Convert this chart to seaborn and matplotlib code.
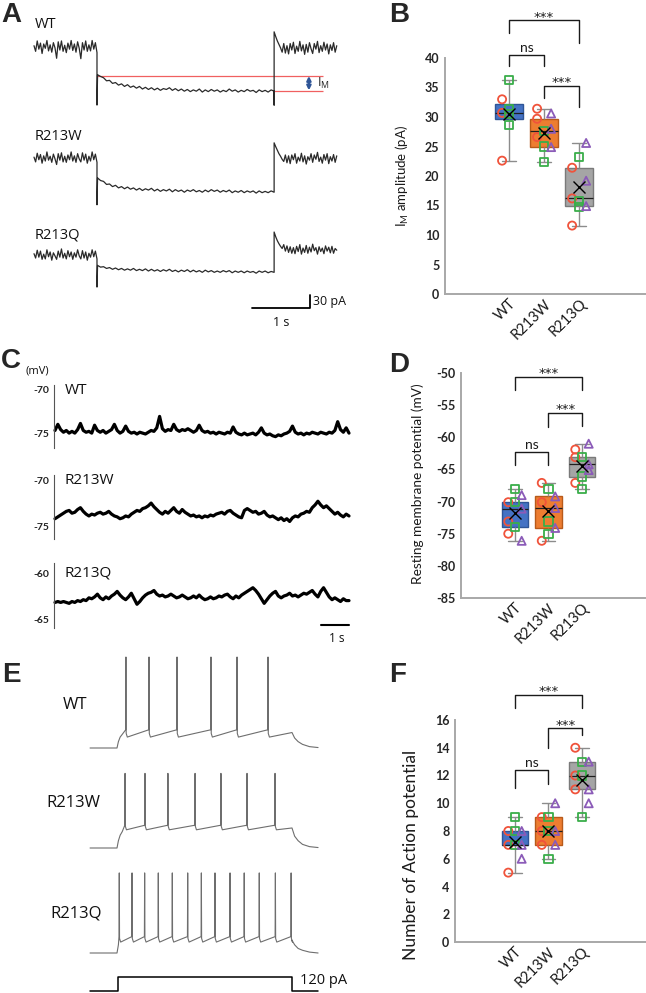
import numpy as np
import pandas as pd
import matplotlib
matplotlib.use("Agg")
import matplotlib.pyplot as plt
import seaborn as sns

# ======================= DATA =======================
groups = ["WT", "R213W", "R213Q"]
box_fill = ["#4472C4", "#ED7D31", "#A5A5A5"]
box_edge = ["#2F5597", "#B85A1A", "#7A7A7A"]
src_names = ["red", "green", "purple"]
src_colors = {"red": "#F0533B", "green": "#3AAE4A", "purple": "#8B5BB8"}
src_markers = {"red": "o", "green": "s", "purple": "^"}
src_offset = {"red": -0.2, "green": 0.0, "purple": 0.2}

# B : I_M amplitude (pA), per group [WT, R213W, R213Q]
im_red = [[33.0, 30.7, 22.6], [31.4, 29.7, 26.6], [21.4, 16.2, 11.6]]
im_green = [[36.2, 31.3, 30.5, 28.7], [27.7, 25.0, 22.4], [23.2, 15.7, 14.7]]
im_purple = [[], [30.6, 28.0, 24.9], [25.6, 19.2, 14.9]]

# D : resting membrane potential (mV)
rmp_red = [[-70.1, -73.1, -75.0], [-67.1, -70.1, -76.1], [-61.9, -63.1, -67.1]]
rmp_green = [[-68.0, -70.1, -74.0], [-68.0, -73.1, -75.0], [-63.1, -66.1, -68.0]]
rmp_purple = [[-69.0, -71.1, -76.1], [-69.2, -71.0, -74.1], [-61.0, -64.2, -65.1]]

# F : number of action potentials
ap_red = [[8, 7, 5], [9, 8, 7], [14, 12, 11]]
ap_green = [[9, 8, 7], [9, 8, 6], [13, 12, 9]]
ap_purple = [[8, 7, 6], [10, 8, 7], [13, 11, 10]]

# significance brackets: (group i, group j, top, left leg end, right leg end, label)
sig_B = [(0, 2, 46.4, 44.2, 42.5, "***"), (0, 1, 40.5, 38.6, 38.6, "ns"), (1, 2, 35.3, 33.2, 31.7, "***")]
sig_D = [(0, 2, -50.6, -52.6, -52.6, "***"), (1, 2, -56.2, -58.4, -58.3, "***"), (0, 1, -62.3, -64.3, -64.3, "ns")]
sig_F = [(0, 2, 17.8, 16.9, 16.9, "***"), (1, 2, 15.4, 14.0, 14.9, "***"), (0, 1, 12.4, 11.1, 11.4, "ns")]

# A : M-current traces (pA, relative to holding level); time in s
A_t_on, A_t_off, A_t_end = 1.086, 4.14, 5.22
A_pre = [
    [3, -10, 14, -5, 9, -15, 7, -3, 15, -9, 5, -12, 10, -2, -26, 12, -7, 14, -10, 4, -13, 9, -5, 15, -8, 7, -12, 12, -3, -27, 10, -7, 14, -10, 5, -9, 15, -5, 10, -13],
    [2, -9, 11, -4, 8, -12, 5, -7, 14, -5, 4, -10, 9, -2, -15, 10, -5, 12, -9, 4, -10, 7, -4, 14, -7, 5, -10, 10, -2, -9, 12, -5, 9, -12, 4, -7, 14, -4, 9, -10],
    [3, -7, 11, -5, 9, -10, 2, -9, 12, -4, 7, -12, 5, -2, -10, 9, -5, 14, -7, 4, -9, 10, -4, 7, -10, 5, -5, 12, -2, -9, 10, -7, 7, -12, 4, -5, 12, -4, 9, -9],
]
A_step = [
    [-64, -68, -71, -78, -77, -84, -82, -88, -85, -91, -87, -93, -90, -95, -91, -97, -93, -98, -94, -99, -95, -100, -96, -98, -94, -100, -96, -101, -97, -102,
     -98, -103, -99, -102, -97, -104, -99, -103, -98, -102, -99, -104, -100, -103, -97, -102, -99, -104, -100, -103, -98, -102, -100, -105, -99, -103, -100, -104, -99, -102],
    [-46, -52, -54, -61, -60, -66, -63, -69, -66, -71, -67, -72, -69, -74, -70, -75, -71, -74, -70, -76, -72, -77, -73, -76, -72, -78, -73, -77, -74, -79,
     -74, -77, -73, -78, -75, -79, -74, -78, -73, -77, -74, -79, -75, -78, -74, -80, -76, -79, -75, -80, -76, -79, -76, -81, -76, -80, -77, -80, -76, -79],
    [-24, -28, -27, -31, -29, -33, -30, -34, -31, -35, -32, -35, -31, -36, -33, -36, -32, -37, -33, -37, -34, -38, -34, -37, -33, -38, -35, -39, -35, -38,
     -34, -39, -35, -39, -36, -40, -35, -39, -36, -40, -37, -40, -36, -39, -36, -41, -37, -40, -37, -41, -37, -40, -38, -42, -37, -40, -37, -41, -38, -40],
]
A_post = [
    [35, 24, 14, 6, -2, -12, 8, -14, 3, -16, 8, -7, 11, -15, 2, -10, 13, -9, 5, -17, 6, -12, 10, -4, -15, 8, -5, 13, -13, 3, -10, 11, -7, 7, -16, 5, -8, 10, -12, 3],
    [35, 26, 18, 10, 4, -3, -8, 7, -11, 5, -13, 7, -4, 10, -12, 2, -7, 11, -9, 5, -14, 3, -5, 10, -10, 7, -3, 13, -8, 2, -12, 8, -5, 10, -13, 3, -7, 8, -10, 5],
    [53, 42, 33, 26, 20, 15, 24, 9, 21, 6, 19, 4, 17, 3, 20, 8, 24, 2, 16, 6, 22, 4, 18, 7, 25, 10, 17, 2, 19, 8, 16, 3, 21, 9, 18, 5, 20, 4, 15, 11],
]
A_on_min = [-134, -108, -74]      # capacitive transient at step onset
A_off_min = [-134, -78, -39]      # transient at step offset
A_IM_levels = [-66, -101]         # initial and steady-state levels (WT)

# C : resting membrane potential traces (mV), 10.5 s
C_dur = 10.5
C_WT = [-74.6, -73.9, -74.5, -74.8, -74.6, -74.9, -74.7, -74.9, -74.5, -73.8, -74.6, -74.8, -74.7, -74.9, -74.0, -74.6, -74.8, -74.6, -74.9, -74.7,
        -74.5, -73.9, -74.6, -74.9, -74.7, -74.1, -74.7, -74.9, -74.8, -75.0, -74.8, -74.9, -75.0, -74.8, -74.6, -74.7, -74.3, -73.0, -74.4, -74.7,
        -74.5, -74.6, -73.9, -74.5, -74.7, -74.5, -74.6, -74.4, -74.6, -74.8, -74.6, -74.0, -74.6, -74.8, -74.7, -74.9, -74.8, -75.0, -74.8, -74.9,
        -75.0, -74.8, -74.9, -74.2, -74.8, -75.0, -75.1, -74.9, -75.1, -75.0, -74.9, -75.1, -74.8, -74.3, -74.9, -75.1, -75.0, -75.2, -75.3, -75.1,
        -75.2, -75.0, -74.9, -74.7, -74.1, -74.8, -75.0, -74.9, -75.1, -74.9, -75.0, -74.8, -74.9, -75.0, -74.8, -74.9, -75.0, -74.8, -74.9, -74.6,
        -73.6, -74.5, -74.8, -74.3, -74.9]
C_W = [-74.1, -73.9, -73.7, -73.5, -73.3, -73.2, -73.5, -73.4, -73.1, -72.9, -73.3, -73.6, -73.8, -73.6, -73.7, -73.5, -73.4, -73.6, -73.5, -73.3,
       -73.6, -73.8, -73.9, -74.1, -74.0, -73.8, -73.9, -73.6, -73.4, -73.2, -73.3, -73.0, -72.9, -72.7, -72.4, -72.8, -73.1, -73.4, -73.6, -73.3,
       -73.5, -73.2, -72.9, -73.3, -73.5, -73.1, -73.4, -73.6, -73.8, -73.7, -73.9, -73.8, -74.0, -73.8, -73.9, -73.7, -73.8, -73.6, -73.5, -73.4,
       -73.6, -73.3, -73.2, -73.5, -73.7, -73.9, -74.0, -73.2, -73.0, -73.2, -73.4, -73.3, -73.6, -73.5, -73.3, -73.7, -73.9, -73.8, -74.0, -74.2,
       -74.0, -74.3, -74.1, -74.4, -74.0, -73.8, -73.9, -73.6, -73.5, -73.3, -73.4, -72.9, -72.6, -72.2, -72.6, -72.9, -72.7, -73.0, -73.3, -73.6,
       -73.4, -73.7, -73.9, -73.6, -73.8]
C_Q = [-63.2, -63.1, -63.2, -63.1, -63.2, -63.3, -63.1, -63.2, -63.0, -63.1, -62.9, -63.0, -62.7, -62.8, -62.6, -62.3, -62.7, -62.9, -62.6, -62.8,
       -62.5, -62.3, -62.0, -62.4, -62.7, -62.9, -62.6, -62.2, -62.8, -63.4, -63.1, -62.7, -62.4, -62.2, -62.1, -61.9, -62.3, -62.5, -62.4, -62.6,
       -62.5, -62.3, -62.5, -62.7, -62.6, -62.4, -62.6, -62.8, -62.7, -62.5, -62.7, -62.4, -62.7, -62.9, -62.8, -62.6, -62.8, -62.7, -62.5, -62.6,
       -62.4, -62.3, -62.6, -62.8, -62.5, -62.7, -62.4, -62.2, -62.0, -61.8, -61.6, -61.9, -62.3, -62.8, -63.3, -62.9, -62.5, -62.2, -62.0, -62.5,
       -62.7, -62.5, -62.4, -62.2, -62.5, -62.4, -62.6, -62.4, -62.2, -62.3, -62.1, -61.9, -62.3, -62.6, -62.0, -61.6, -62.1, -62.6, -62.9, -62.7,
       -62.9, -63.1, -62.8, -63.0, -63.0]
C_traces = [C_WT, C_W, C_Q]
C_ticks = [(-70, -75), (-70, -75), (-60, -65)]

# E : action-potential trains (mV) for a 1000 ms, 120 pA step
E_t_start, E_t_off, E_t_end = -154, 1000, 1149
E_spikes = [
    [51, 183, 343, 537, 686, 863],
    [46, 160, 291, 446, 594, 743, 903],
    [13, 86, 158, 236, 316, 404, 482, 560, 646, 727, 813, 905, 995],
]
E_rest = [-70, -70, -70]
E_peak = [30, 12, 18]
E_thr = [-50, -45, -52]
E_trough = [-58, -50, -58]
E_on_t = [0, 8, 18, 30]
E_on_v = [[-70, -63, -58, -55], [-70, -62, -56, -52], [-70, -61, -57, -55]]
E_off_t = [1000, 1015, 1035, 1060, 1100, 1149]
E_off_v = [[-53, -59, -63, -66, -68.5, -69.5], [-48, -57, -62, -66, -68.5, -69.5], [-56, -61, -65, -67, -69, -70]]
stim_pA = 120
stim_on = 6

# ======================= STYLE =======================
sns.set_style("white")
plt.rcParams["font.family"] = ["Lato", "DejaVu Sans"]
plt.rcParams["axes.unicode_minus"] = False
W, H = 646, 993
fig = plt.figure(figsize=(W / 100, H / 100), dpi=100)

def pax(l, t, r, b):
    ax = fig.add_axes([l / W, 1 - b / H, (r - l) / W, (b - t) / H])
    ax.patch.set_alpha(0)
    return ax

def set_map(ax, l, t, r, b, xpx0, xv0, xppu, ypx0, yv0, yppu):
    ax.set_xlim(xv0 + (l - xpx0) / xppu, xv0 + (r - xpx0) / xppu)
    ax.set_ylim(yv0 - (b - ypx0) / yppu, yv0 + (ypx0 - t) / yppu)

def ftext(x, y, s, **kw):
    return fig.text(x / W, 1 - y / H, s, **kw)

LETTER = dict(fontsize=20, fontweight="bold", family=["Liberation Sans"], va="baseline", ha="left")
TRACE_LBL = dict(family=["Open Sans", "DejaVu Sans"], color="#111111")

# ======================= PANEL A =======================
ftext(1, 22, "A", **LETTER)
A_base_px = [47, 158, 255]
A_boxes = [(25, 112), (128, 212), (222, 330)]
A_names_y = [25, 137, 235]
for i in range(3):
    t0, b0 = A_boxes[i]
    ax = pax(20, t0, 390, b0)
    set_map(ax, 20, t0, 390, b0, 34, 0.0, 58.0, A_base_px[i], 0.0, 13 / 30)
    ax.axis("off")
    pre_t = np.linspace(0, A_t_on, len(A_pre[i]))
    step_t = np.linspace(A_t_on + 0.01, A_t_off, len(A_step[i]))
    post_t = np.linspace(A_t_off, A_t_end, len(A_post[i]))
    tt = np.concatenate([pre_t, [A_t_on], step_t, [A_t_off], post_t])
    vv = np.concatenate([A_pre[i], [A_on_min[i]], A_step[i], [A_off_min[i]], A_post[i]])
    if i == 0:
        ax.hlines(A_IM_levels[0], A_t_on, 4.98, color="#F06060", lw=0.9, zorder=1)
        ax.hlines(A_IM_levels[1], A_t_off, 4.98, color="#F06060", lw=0.9, zorder=1)
        ax.annotate("", xy=(4.74, A_IM_levels[1] + 1), xytext=(4.74, A_IM_levels[0] - 1),
                    arrowprops=dict(arrowstyle="<|-|>", color="#2F5597", lw=1.6,
                                    mutation_scale=6, shrinkA=0, shrinkB=0))
        ax.text(4.88, -85, r"$\mathregular{I_M}$", fontsize=9, va="center", ha="left",
                family=["Open Sans", "DejaVu Sans"])
    ax.plot(tt, vv, color="#2a2a2a", lw=0.9, zorder=2)
    if i == 2:
        ax.plot([3.76, 4.76, 4.76], [-122, -122, -92], color="black", lw=1.3, clip_on=False)
    ftext(35, A_names_y[i], groups[i], fontsize=10.5, va="center", ha="left", **TRACE_LBL)
ftext(313, 302, "30 pA", fontsize=9, va="center", ha="left", **TRACE_LBL)
ftext(281, 322, "1 s", fontsize=9, va="center", ha="center", **TRACE_LBL)

# ======================= PANEL C =======================
ftext(1, 368, "C", **LETTER)
ftext(37, 371, "(mV)", fontsize=8, va="center", ha="center", **TRACE_LBL)
C_ref = [(390, 8.8), (481, 9.2), (573, 9.2)]
C_boxes = [(375, 452), (468, 542), (556, 634)]
C_spine = [(-69.43, -76.6), (-69.35, -76.3), (-58.9, -66.0)]
C_names_y = [391, 481, 573]
for i in range(3):
    t0, b0 = C_boxes[i]
    ax = pax(40, t0, 356, b0)
    ref_px, ppu = C_ref[i]
    set_map(ax, 40, t0, 356, b0, 55, 0.0, 28.0, ref_px, C_ticks[i][0], ppu)
    tt = np.linspace(0, C_dur, len(C_traces[i]))
    ax.plot(tt, C_traces[i], color="black", lw=2.3, solid_joinstyle="round")
    for s in ["top", "right", "bottom"]:
        ax.spines[s].set_visible(False)
    ax.spines["left"].set_position(("data", -0.04))
    ax.spines["left"].set_bounds(*C_spine[i])
    ax.spines["left"].set_color("#555555")
    ax.spines["left"].set_linewidth(0.8)
    ax.set_xticks([])
    ax.set_yticks(list(C_ticks[i]))
    ax.set_yticklabels([str(v) for v in C_ticks[i]], fontsize=7.5, fontweight="bold", color="#222222")
    ax.tick_params(axis="y", length=2, width=0.6, pad=1, color="#555555")
    if i == 2:
        ax.plot([C_dur - 1.0, C_dur], [-65.65, -65.65], color="black", lw=1.5, clip_on=False)
    ftext(65, C_names_y[i], groups[i], fontsize=11, va="center", ha="left", **TRACE_LBL)
ftext(337, 638, "1 s", fontsize=8.5, va="center", ha="center", **TRACE_LBL)

# ======================= PANEL E =======================
ftext(2, 682, "E", **LETTER)
E_ref_px = [748, 848, 953]
E_boxes = [(650, 755), (765, 855), (865, 960)]
E_names = [(75, 705), (73, 803), (76, 913)]
for i in range(3):
    t0, b0 = E_boxes[i]
    ax = pax(85, t0, 325, b0)
    set_map(ax, 85, t0, 325, b0, 117, 0.0, 0.175, E_ref_px[i], E_rest[i], 0.91)
    ax.axis("off")
    tt = [E_t_start]
    vv = [E_rest[i]]
    sp = E_spikes[i]
    for tk, vk in zip(E_on_t, E_on_v[i]):
        if tk < sp[0] - 2:
            tt.append(tk); vv.append(vk)
    for k, ts in enumerate(sp):
        tt += [ts - 1.5, ts, ts + 1.5, ts + 8]
        vv += [E_thr[i], E_peak[i], E_trough[i] + 4, E_trough[i]]
    tt += E_off_t
    vv += E_off_v[i]
    ax.plot(tt, vv, color="#6e6e6e", lw=0.8)
    ftext(E_names[i][0], E_names[i][1], groups[i], fontsize=12, va="center", ha="center", **TRACE_LBL)
axs = pax(85, 968, 325, 993)
set_map(axs, 85, 968, 325, 993, 117, 0.0, 0.175, 991, 0.0, 0.117)
axs.axis("off")
axs.plot([E_t_start, stim_on, stim_on, E_t_off, E_t_off, E_t_end],
         [0, 0, stim_pA, stim_pA, 0, 0], color="black", lw=1.1, clip_on=False)
ftext(300, 980, f"{stim_pA} pA", fontsize=10.5, va="center", ha="left", **TRACE_LBL)

# ======================= BOX PANELS =======================
def box_panel(ax, reds, greens, purples, sig, ylim, yticks, ylabel, lab_xy, lab_size, xlim):
    rows = []
    for name, arr in zip(src_names, [reds, greens, purples]):
        for gi, g in enumerate(groups):
            for v in arr[gi]:
                rows.append({"group": g, "source": name, "value": v, "xpos": gi + src_offset[name]})
    df = pd.DataFrame(rows)
    for gi, g in enumerate(groups):
        sub = df[df["group"] == g]
        sns.boxplot(data=sub, x="group", y="value", order=groups, ax=ax,
                    color=box_fill[gi], saturation=1, width=0.8, whis=(0, 100),
                    showfliers=False, showmeans=True, linecolor=box_edge[gi], linewidth=1.0,
                    medianprops=dict(color="#1f1f1f", linewidth=0.9),
                    whiskerprops=dict(color="#8c8c8c", linewidth=1.0),
                    capprops=dict(color="#8c8c8c", linewidth=1.0),
                    meanprops=dict(marker="x", markeredgecolor="black", markerfacecolor="black",
                                   markersize=8, markeredgewidth=1.0, zorder=5))
    for name in src_names:
        sub = df[df["source"] == name]
        if len(sub) == 0:
            continue
        sns.scatterplot(x=sub["xpos"].values, y=sub["value"].values, ax=ax,
                        marker=src_markers[name], s=34, color=src_colors[name],
                        facecolor="none", edgecolor=src_colors[name], linewidth=1.3,
                        legend=False, zorder=4)
    for (a, b, top, ya, yb, txt) in sig:
        ax.plot([a, a, b, b], [ya, top, top, yb], color="#1a1a1a", lw=1.0, clip_on=False)
        if txt == "ns":
            ax.annotate(txt, xy=((a + b) / 2, top), xytext=(0, 0.5), textcoords="offset points",
                        ha="center", va="bottom", fontsize=10, color="#1a1a1a", annotation_clip=False)
        else:
            ax.annotate(txt, xy=((a + b) / 2, top), xytext=(0, -2.5), textcoords="offset points",
                        ha="center", va="bottom", fontsize=9.5, color="#1a1a1a",
                        family=["DejaVu Sans"], annotation_clip=False)
    ax.set_xlim(*xlim)
    ax.set_ylim(*ylim)
    ax.set_yticks(yticks)
    ax.set_yticklabels([str(v) for v in yticks], fontsize=9, fontweight="bold", color="#262626")
    ax.set_xticks([0, 1, 2])
    ax.set_xticklabels(groups, rotation=45, ha="right", rotation_mode="anchor",
                       fontsize=10.5, color="#1a1a1a")
    ax.tick_params(axis="both", length=0, pad=4)
    ax.tick_params(axis="x", pad=2)
    for s in ["top", "right"]:
        ax.spines[s].set_visible(False)
    for s in ["left", "bottom"]:
        ax.spines[s].set_color("#A8A8A8")
        ax.spines[s].set_linewidth(1.4)
    ax.set_xlabel("")
    ax.set_ylabel(ylabel, fontsize=lab_size, color="#1a1a1a")
    ax.yaxis.set_label_coords(*lab_xy)

ftext(389, 22, "B", **LETTER)
axB = pax(445, 58, 646, 294)
box_panel(axB, im_red, im_green, im_purple, sig_B, (0, 40), list(range(0, 41, 5)),
          r"$\mathregular{I_M}$ amplitude (pA)", (-0.17, 0.5), 9.5, (-1.83, 3.91))

ftext(389, 372, "D", **LETTER)
axD = pax(461, 373, 645, 598)
box_panel(axD, rmp_red, rmp_green, rmp_purple, sig_D, (-85, -50), list(range(-85, -49, 5)),
          "Resting membrane potential (mV)", (-0.2, 0.51), 9.8, (-1.61, 3.88))

ftext(389, 682, "F", **LETTER)
axF = pax(455, 720, 646, 942)
box_panel(axF, ap_red, ap_green, ap_purple, sig_F, (0, 16), list(range(0, 17, 2)),
          "Number of Action potential", (-0.19, 0.39), 12.5, (-1.79, 3.91))

fig.savefig("out.png", dpi=100)
